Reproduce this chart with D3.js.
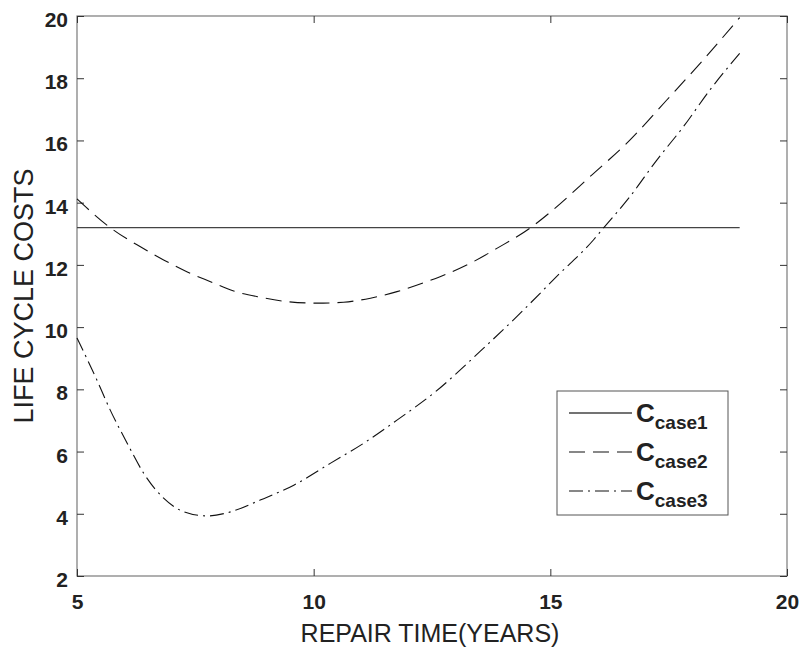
<!DOCTYPE html>
<html><head><meta charset="utf-8">
<script src="https://cdn.jsdelivr.net/npm/d3@7/dist/d3.min.js"></script>
<style>body{margin:0;background:#fff}svg{display:block}text{font-family:"Liberation Sans",Arial,sans-serif}</style>
</head><body><svg id="c" width="802" height="653"></svg>
<script>
const xTicks=[5,10,15,20];
const yTicks=[2,4,6,8,10,12,14,16,18,20];
const seriesNames=["case1","case2","case3"];
const case1X=[5,19];
const case1Y=[13.2,13.2];
const case2X=[5,5.7,6.34,6.83,7.32,7.82,8.31,8.87,9.44,10.07,10.63,11.2,11.76,12.39,12.67,13.37,13.87,14.57,15.06,15.84,16.68,17.46,18.23,19.0];
const case2Y=[14.12,13.2,12.58,12.16,11.78,11.46,11.16,10.96,10.82,10.77,10.8,10.93,11.14,11.46,11.62,12.1,12.53,13.18,13.77,14.84,16.01,17.3,18.59,19.95];
const case3X=[5,5.42,5.7,6.06,6.41,6.83,7.25,7.75,8.17,8.87,9.58,10.35,11.06,11.76,12.57,13.51,14.36,15.13,15.91,16.12,16.68,17.25,17.81,18.37,19.0];
const case3Y=[9.65,8.3,7.34,6.27,5.3,4.5,4.07,3.93,4.03,4.44,4.92,5.62,6.27,7.01,7.92,9.21,10.44,11.62,12.8,13.18,14.19,15.37,16.44,17.62,18.8];

const svg=d3.select("#c");
const L=77,R=787,T=16,B=576;
const x=d3.scaleLinear().domain([5,20]).range([L,R]);
const y=d3.scaleLinear().domain([2,20]).range([B,T]);

svg.append("rect").attr("x",L).attr("y",T).attr("width",R-L).attr("height",B-T)
  .attr("fill","none").attr("stroke","#7a7a7a").attr("stroke-width",1.2);

function styleAxis(g){g.select(".domain").remove();g.selectAll(".tick line").attr("stroke","#333");}
const fmt=d3.format("d");
svg.append("g").attr("transform",`translate(0,${B})`)
  .call(d3.axisBottom(x).tickValues(xTicks).tickSizeInner(-7).tickSizeOuter(0).tickPadding(18).tickFormat(fmt))
  .call(styleAxis).call(g=>g.selectAll("text").attr("font-size",21).attr("font-weight","bold").attr("fill","#222"));
svg.append("g").attr("transform",`translate(0,${T})`)
  .call(d3.axisTop(x).tickValues(xTicks).tickSizeInner(-7).tickSizeOuter(0).tickFormat(""))
  .call(styleAxis);
svg.append("g").attr("transform",`translate(${L},0)`)
  .call(d3.axisLeft(y).tickValues(yTicks).tickSizeInner(-7).tickSizeOuter(0).tickPadding(9).tickFormat(fmt))
  .call(styleAxis).call(g=>g.selectAll("text").attr("font-size",21).attr("font-weight","bold").attr("fill","#222").attr("dy","0.5em"));
svg.append("g").attr("transform",`translate(${R},0)`)
  .call(d3.axisRight(y).tickValues(yTicks).tickSizeInner(-7).tickSizeOuter(0).tickFormat(""))
  .call(styleAxis);

const line=d3.line().x(d=>x(d[0])).y(d=>y(d[1])).curve(d3.curveMonotoneX);
const zip=(a,b)=>a.map((v,i)=>[v,b[i]]);
const styles={
  case1:{stroke:"#444",w:1.3,dash:null},
  case2:{stroke:"#111",w:1.1,dash:"16,8"},
  case3:{stroke:"#111",w:1.1,dash:"14,5,2,5"}
};
const data={case1:zip(case1X,case1Y),case2:zip(case2X,case2Y),case3:zip(case3X,case3Y)};
seriesNames.forEach(n=>{
  svg.append("path").attr("d",line(data[n])).attr("fill","none")
    .attr("stroke",styles[n].stroke).attr("stroke-width",styles[n].w)
    .attr("stroke-dasharray",styles[n].dash);
});

svg.append("text").attr("x",(L+R)/2-2).attr("y",642).attr("text-anchor","middle")
  .attr("font-size",25).attr("fill","#222").text("REPAIR TIME(YEARS)");
svg.append("text").attr("transform",`translate(33,${(T+B)/2}) rotate(-90)`).attr("text-anchor","middle")
  .attr("font-size",27).attr("fill","#222").text("LIFE CYCLE COSTS");

const lg=svg.append("g");
lg.append("rect").attr("x",557).attr("y",391).attr("width",171).attr("height",124)
  .attr("fill","#fff").attr("stroke","#555").attr("stroke-width",1);
seriesNames.forEach((n,i)=>{
  const yy=413+i*39;
  lg.append("line").attr("x1",569).attr("x2",632).attr("y1",yy).attr("y2",yy)
    .attr("stroke",styles[n].stroke).attr("stroke-width",styles[n].w).attr("stroke-dasharray",styles[n].dash);
  const t=lg.append("text").attr("x",636).attr("y",yy+9).attr("font-size",26).attr("font-weight","bold").attr("fill","#222");
  t.append("tspan").text("C");
  t.append("tspan").attr("font-size",19).attr("dy",7).text(n);
});
</script></body></html>
